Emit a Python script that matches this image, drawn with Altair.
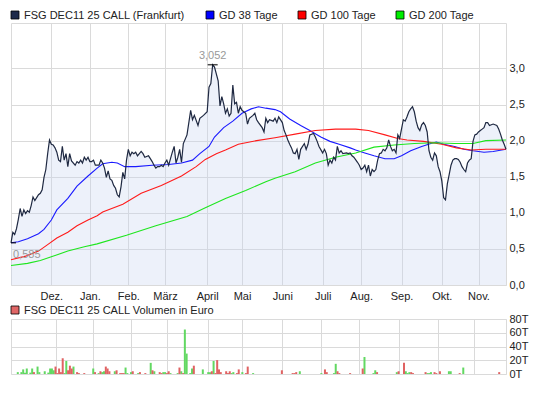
import altair as alt
import pandas as pd

# ---------------- data ----------------
# x = trading day number (0 = first trading day shown), y = price in Euro
price_day = [0, 1, 2, 3, 4, 5, 6, 7, 8, 9, 10, 11, 12, 13, 14, 15, 16, 17, 18, 19,
             20, 21, 22, 23, 24, 25, 26, 27, 28, 29, 30, 31, 32, 33, 35, 36, 37, 38, 39, 40,
             41, 42, 43, 44, 45, 46, 48, 49, 50, 51, 52, 53, 54, 55, 56, 57, 58, 59, 60, 61,
             62, 63, 64, 65, 66, 67, 68, 69, 70, 71, 72, 73, 75, 76, 77, 78, 79, 80, 81, 82,
             83, 84, 85, 86, 87, 88, 89, 90, 91, 92, 93, 94, 96, 98, 99, 100, 102, 103, 105, 107,
             108, 109, 110, 111, 113, 114, 115, 116, 117, 118, 119, 120, 121, 122, 123, 124, 125, 126, 128, 129,
             130, 132, 133, 134, 135, 137, 138, 139, 140, 141, 143, 144, 145, 146, 148, 149, 150, 151, 152, 153,
             154, 155, 156, 157, 158, 160, 161, 162, 163, 165, 166, 167, 168, 170, 171, 172, 173, 174, 175, 176,
             177, 178, 179, 180, 181, 183, 184, 185, 186, 187, 189, 190, 191, 192, 193, 194, 195, 196, 197, 198,
             199, 200, 201, 202, 203, 204, 205, 206, 207, 208, 209, 210, 211, 212, 213, 214, 215, 216, 217, 218,
             219, 220, 221, 222, 223, 224, 225, 226, 227, 228, 229, 230, 231, 232, 233, 234, 235, 236, 237, 238,
             239, 240, 241, 242, 243, 244, 245, 246, 247, 248, 249, 250, 251, 252, 253, 254, 255, 256, 257, 258,
             259, 260, 261, 262, 263, 264, 265, 266, 267, 268, 269, 270]
price = [0.585, 0.73, 0.70, 0.78, 0.91, 1.06, 0.95, 1.04, 0.99, 1.03, 1.01, 1.10, 1.22, 1.17, 1.21, 1.25, 1.27, 1.32, 1.49, 1.60,
         1.82, 2.01, 1.95, 1.94, 1.90, 1.84, 1.73, 1.71, 1.92, 1.73, 1.82, 1.64, 1.82, 1.72, 1.66, 1.71, 1.69, 1.73, 1.69, 1.77,
         1.73, 1.77, 1.71, 1.71, 1.73, 1.66, 1.66, 1.73, 1.69, 1.62, 1.49, 1.58, 1.47, 1.45, 1.38, 1.34, 1.25, 1.22, 1.36, 1.56,
         1.47, 1.73, 1.88, 1.79, 1.84, 1.82, 1.84, 1.79, 1.82, 1.85, 1.82, 1.77, 1.79, 1.75, 1.71, 1.66, 1.62, 1.64, 1.64, 1.66,
         1.64, 1.69, 1.73, 1.66, 1.75, 1.84, 1.92, 1.69, 1.77, 1.88, 1.70, 1.96, 2.08, 2.42, 2.29, 2.35, 2.21, 2.31, 2.35, 2.40,
         2.74, 2.79, 3.052, 3.02, 2.83, 2.48, 2.61, 2.51, 2.38, 2.44, 2.34, 2.38, 2.77, 2.51, 2.53, 2.38, 2.47, 2.42, 2.38, 2.23,
         2.31, 2.35, 2.38, 2.29, 2.25, 2.18, 2.12, 2.31, 2.25, 2.29, 2.27, 2.31, 2.25, 2.33, 2.25, 2.14, 2.08, 2.01, 1.95, 1.90,
         1.83, 1.82, 1.88, 1.74, 1.88, 1.96, 1.88, 1.95, 2.08, 2.10, 2.05, 1.99, 1.92, 1.83, 1.88, 1.82, 1.66, 1.73, 1.69, 1.77,
         1.73, 1.92, 1.83, 1.86, 1.82, 1.83, 1.82, 1.83, 1.79, 1.77, 1.70, 1.66, 1.60, 1.62, 1.66, 1.57, 1.66, 1.51, 1.60, 1.57,
         1.60, 1.73, 1.82, 1.83, 1.88, 1.86, 1.90, 2.01, 1.92, 1.86, 1.88, 1.83, 2.08, 2.03, 2.16, 2.29, 2.27, 2.33, 2.40, 2.44,
         2.47, 2.40, 2.27, 2.18, 2.14, 2.22, 2.25, 2.21, 2.12, 1.86, 1.77, 1.73, 1.83, 1.79, 1.64, 1.57, 1.44, 1.21, 1.18, 1.40,
         1.53, 1.66, 1.73, 1.75, 1.75, 1.74, 1.70, 1.64, 1.60, 1.57, 1.69, 1.73, 1.75, 1.99, 2.08, 2.09, 2.12, 2.14, 2.16, 2.18,
         2.25, 2.25, 2.21, 2.22, 2.23, 2.22, 2.21, 2.16, 2.09, 2.01, 1.95, 1.88]

gd38_day = [0, 4, 9, 15, 18, 22, 25, 31, 36, 42, 47, 50, 55, 58, 62, 68, 77, 86, 93, 99, 103, 108, 111, 116, 121,
            126, 131, 135, 139, 144, 147, 152, 158, 163, 169, 174, 179, 185, 188, 193, 198, 204, 209, 213, 218,
            224, 229, 232, 236, 242, 247, 252, 258, 263, 270]
gd38 = [0.585, 0.60, 0.64, 0.71, 0.77, 0.90, 1.04, 1.20, 1.37, 1.51, 1.62, 1.68, 1.70, 1.69, 1.64, 1.64, 1.66, 1.67, 1.69, 1.73,
        1.82, 1.92, 2.05, 2.18, 2.27,
        2.38, 2.44, 2.47, 2.45, 2.43, 2.40, 2.30, 2.21, 2.14, 2.05, 1.99, 1.95, 1.90, 1.87, 1.83, 1.79, 1.75, 1.75, 1.79, 1.86,
        1.92, 1.96, 1.98, 1.95, 1.92, 1.88, 1.86, 1.84, 1.85, 1.88]

gd100_day = [0, 8, 15, 20, 25, 31, 36, 42, 47, 50, 61, 71, 82, 93, 101, 106, 112, 117, 124, 134, 144, 155, 166, 177,
             188, 195, 204, 211, 216, 225, 235, 243, 251, 259, 270]
gd100 = [0.35, 0.40, 0.47, 0.56, 0.65, 0.73, 0.82, 0.90, 0.96, 1.01, 1.12, 1.27, 1.38, 1.51, 1.64, 1.74, 1.82, 1.87, 1.95,
         2.00, 2.04, 2.09, 2.14, 2.16,
         2.16, 2.14, 2.08, 2.03, 2.01, 1.99, 1.95, 1.90, 1.87, 1.88, 1.88]

gd200_day = [0, 9, 16, 22, 31, 40, 47, 63, 79, 96, 106, 117, 128, 139, 144, 155, 166, 177, 188, 198, 209, 220, 231, 242,
             252, 259, 270]
gd200 = [0.27, 0.30, 0.34, 0.39, 0.47, 0.53, 0.57, 0.69, 0.82, 0.95, 1.07, 1.20, 1.31, 1.43, 1.48, 1.57, 1.69, 1.77, 1.83,
         1.91, 1.94, 1.96, 1.97, 1.96,
         1.96, 2.00, 2.01]

# volume per trading day in thousand Euro; 1 = up day (green), 0 = down day (red)
vol_day = [1, 3, 4, 5, 6, 8, 9, 10, 12, 13,
           16, 18, 19, 20, 21, 22, 23, 24, 25, 26,
           27, 28, 29, 30, 31, 32, 34, 35, 38, 43,
           44, 46, 47, 48, 49, 50, 51, 52, 55, 56,
           58, 59, 60, 61, 62, 64, 65, 68, 69, 72,
           75, 76, 77, 80, 81, 82, 83, 84, 85, 86,
           90, 91, 92, 93, 94, 95, 97, 98, 99, 104,
           107, 108, 109, 110, 111, 112, 113, 114, 117, 118,
           119, 120, 121, 123, 124, 126, 128, 129, 132, 148,
           154, 155, 156, 158, 170, 172, 173, 177, 178, 179,
           180, 186, 193, 194, 199, 200, 201, 212, 213, 216,
           217, 218, 219, 220, 221, 228, 229, 230, 231, 233,
           234, 236, 241, 242, 247, 249, 269]
vol_teur = [2.7, 2.7, 6.7, 1.8, 8, 2, 8, 2.7, 10.8, 2.7,
            4, 2, 8, 8, 5.4, 10.8, 1.3, 8, 2.7, 22.9,
            1.3, 18.9, 5.4, 12.1, 8, 10.8, 2.7, 1.3, 1.3, 8,
            2.7, 1.3, 4, 2.7, 4, 10.8, 8, 4, 4, 5.4,
            1.3, 1.3, 1.3, 9.4, 1.3, 2.7, 4, 1.3, 2.7, 1.3,
            16.2, 5.4, 4, 2.7, 1.3, 2.7, 2.7, 1.3, 4, 1.3,
            1.3, 9.4, 4, 1.3, 64.7, 29.7, 1.3, 8, 12.1, 6.7,
            2.7, 2.7, 4, 18.9, 1.3, 20.2, 6.7, 2.7, 4, 1.3,
            4, 1.3, 2.7, 1.3, 6.7, 2.7, 1.3, 10.8, 1.3, 5.4,
            1.3, 1.3, 2.7, 4, 1.3, 6.7, 2.7, 1.3, 14.8, 4,
            1.3, 1.3, 8, 24.7, 1.3, 5.4, 2.7, 2.7, 4, 16.2,
            4, 1.3, 2.7, 2.7, 1.3, 2.7, 1.3, 1.3, 2.7, 2.7,
            1.3, 4, 4, 4, 1.3, 9.4, 2.7]
vol_up = [1, 1, 1, 1, 1, 1, 1, 0, 1, 1,
          1, 1, 1, 1, 1, 0, 0, 0, 0, 0,
          1, 1, 0, 0, 0, 1, 0, 0, 0, 1,
          0, 1, 0, 1, 1, 0, 0, 0, 1, 0,
          0, 0, 0, 1, 1, 1, 0, 1, 0, 0,
          1, 0, 1, 0, 0, 1, 1, 0, 0, 1,
          1, 0, 1, 0, 1, 1, 1, 1, 0, 1,
          1, 1, 0, 1, 0, 0, 0, 0, 0, 0,
          0, 1, 1, 0, 0, 1, 0, 0, 1, 0,
          0, 0, 0, 1, 1, 0, 0, 1, 1, 0,
          0, 0, 0, 1, 1, 1, 0, 1, 0, 0,
          1, 1, 1, 0, 0, 0, 1, 1, 1, 0,
          0, 0, 1, 1, 0, 1, 0]

# month starts (trading day numbers) and their labels
month_day = [22, 43, 64, 84, 107, 126, 148, 170, 191, 213, 235, 255]
month_name = ["Dez.", "Jan.", "Feb.", "März", "April", "Mai", "Juni", "Juli", "Aug.", "Sep.", "Okt.", "Nov."]

price_ticks = [0.0, 0.5, 1.0, 1.5, 2.0, 2.5, 3.0]
vol_ticks = [0, 20, 40, 60, 80]

series_names = ["FSG DEC11 25 CALL (Frankfurt)", "GD 38 Tage", "GD 100 Tage", "GD 200 Tage"]
volume_name = "FSG DEC11 25 CALL Volumen in Euro"

# ---------------- styling ----------------
FONT = "Liberation Sans"
GRID = "#dadada"
TXT = "#222222"
W, H_TOP, H_VOL = 495, 262, 55
PRICE_C = "#1f2942"
MA_COLORS = ["#1a1aff", "#ff1a1a", "#1ee61e"]
LEGEND_FILLS = ["#1e2a4a", "#0000ff", "#ff0000", "#00ee00"]
LEGEND_SQ_X = [4, 199, 291, 389]
LEGEND_TX_X = [13, 208, 300, 398]
UP_C, DOWN_C = "#62d862", "#e06262"

# ---------------- frames ----------------
df_price = pd.DataFrame({"tag": price_day, "wert": price})
rows = []
for name, days, vals in [(series_names[1], gd38_day, gd38),
                         (series_names[2], gd100_day, gd100),
                         (series_names[3], gd200_day, gd200)]:
    for d, v in zip(days, vals):
        rows.append({"tag": d, "wert": v, "serie": name})
df_gd = pd.DataFrame(rows)
df_vol = pd.DataFrame({"tag": vol_day, "volumen": vol_teur, "auf": vol_up})

label_expr = ("[" + ",".join("'" + m + "'" for m in month_name) + "][indexof(["
              + ",".join(str(d) for d in month_day) + "], datum.value)]")

xscale = alt.Scale(domain=[0, 270], nice=False, zero=False)
X_top = alt.X("tag:Q", scale=xscale,
              axis=alt.Axis(values=month_day, labelExpr=label_expr, title=None, ticks=False,
                            domain=False, grid=True, labelPadding=5, labelFlush=False))
Y_top = alt.Y("wert:Q", scale=alt.Scale(domain=[0, 3.63], nice=False),
              axis=alt.Axis(orient="right", values=price_ticks, title=None, ticks=False, domain=False,
                            labelAlign="left", labelPadding=3,
                            labelExpr="replace(format(datum.value, '.1f'), '.', ',')"))

area = alt.Chart(df_price).mark_area(color="#c8d2ee", opacity=0.32).encode(x=X_top, y=Y_top)
ma = alt.Chart(df_gd).mark_line(strokeWidth=1.1).encode(
    x=X_top, y=Y_top,
    color=alt.Color("serie:N", scale=alt.Scale(domain=series_names[1:], range=MA_COLORS), legend=None),
    order="tag:Q")
line = alt.Chart(df_price).mark_line(color=PRICE_C, strokeWidth=1.2).encode(x=X_top, y=Y_top)

ext = alt.Chart(df_price).transform_joinaggregate(mx="max(wert)", mn="min(wert)").transform_calculate(
    lbl="replace(format(datum.wert, '.3f'), '.', ',')")
max_pt = ext.transform_filter("datum.wert == datum.mx")
min_pt = ext.transform_filter("datum.wert == datum.mn")
max_tick = max_pt.mark_tick(orient="horizontal", size=10, thickness=1.5, color="black", clip=True).encode(
    x=X_top, y=Y_top)
min_tick = min_pt.mark_tick(orient="horizontal", size=10, thickness=1.5, color="black", clip=True).encode(
    x=X_top, y=Y_top)
max_txt = max_pt.mark_text(dy=-9, color="#999999", font=FONT, fontSize=11).encode(x=X_top, y=Y_top, text="lbl:N")
min_txt = min_pt.mark_text(dy=12, dx=2, align="left", color="#999999", font=FONT, fontSize=11).encode(
    x=X_top, y=Y_top, text="lbl:N")

legend_layers = []
for name, fill, sx, tx in zip(series_names, LEGEND_FILLS, LEGEND_SQ_X, LEGEND_TX_X):
    d = pd.DataFrame({"name": [name]})
    legend_layers.append(alt.Chart(d).mark_square(size=64, filled=True, color=fill, stroke="black",
                                                  strokeWidth=0.8, opacity=1).encode(
        x=alt.value(sx), y=alt.value(-8)))
    legend_layers.append(alt.Chart(d).mark_text(align="left", baseline="middle", font=FONT, fontSize=11,
                                                color=TXT).encode(
        x=alt.value(tx), y=alt.value(-7.5), text="name:N"))

top = alt.layer(area, ma, line, max_tick, min_tick, max_txt, min_txt, *legend_layers).properties(
    width=W, height=H_TOP)

# ---------------- volume panel ----------------
X_vol = alt.X("tag:Q", scale=xscale,
              axis=alt.Axis(values=month_day, labels=False, title=None, ticks=False, domain=False, grid=True))
Y_vol = alt.Y("volumen:Q", scale=alt.Scale(domain=[0, 80], nice=False),
              axis=alt.Axis(orient="right", values=vol_ticks, title=None, ticks=False, domain=False,
                            labelAlign="left", labelPadding=3,
                            labelExpr="format(datum.value, 'd') + 'T'"))
bars_up = alt.Chart(df_vol).transform_filter("datum.auf == 1").mark_bar(size=2, color=UP_C).encode(
    x=X_vol, y=Y_vol)
bars_dn = alt.Chart(df_vol).transform_filter("datum.auf == 0").mark_bar(size=2, color=DOWN_C).encode(
    x=X_vol, y=Y_vol)
vd = pd.DataFrame({"name": [volume_name]})
vol_sq = alt.Chart(vd).mark_square(size=64, filled=True, color="#e06666", stroke="black",
                                   strokeWidth=0.8, opacity=1).encode(x=alt.value(4), y=alt.value(-9))
vol_tx = alt.Chart(vd).mark_text(align="left", baseline="middle", font=FONT, fontSize=11, color=TXT).encode(
    x=alt.value(13), y=alt.value(-8.5), text="name:N")
vol = alt.layer(bars_up, bars_dn, vol_sq, vol_tx).properties(width=W, height=H_VOL)

chart = alt.vconcat(top, vol, spacing=34).properties(
    bounds="flush", padding={"left": 0, "top": 0, "right": 4, "bottom": 2}
).configure_view(stroke=GRID, strokeWidth=1).configure_axis(
    labelFont=FONT, labelFontSize=11, labelColor=TXT, gridColor=GRID, gridWidth=1, gridOpacity=1
)

chart.save("out.html", embed_options={"renderer": "svg", "actions": False})
